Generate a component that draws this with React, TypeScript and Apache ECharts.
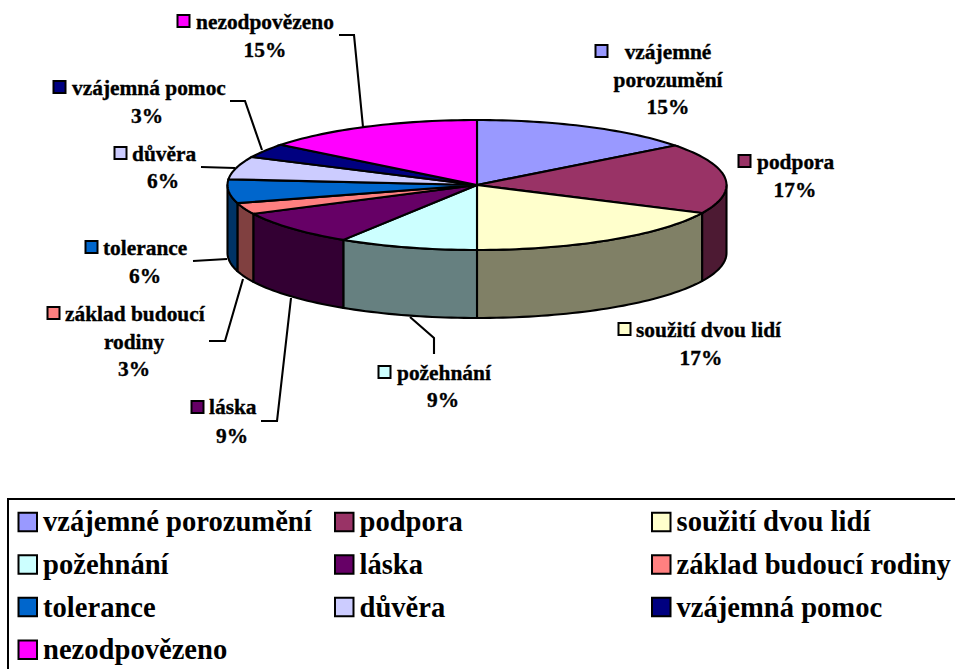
import React, { useEffect, useRef } from "react";
import * as echarts from "echarts";

// Data
const categories = ["vzájemné porozumění", "podpora", "soužití dvou lidí", "požehnání", "láska", "základ budoucí rodiny", "tolerance", "důvěra", "vzájemná pomoc", "nezodpovězeno"];
const shares = [14.6, 17.5, 17.9, 9.0, 8.7, 2.8, 5.9, 5.7, 3.5, 14.4];
const percentLabels = ["15%", "17%", "17%", "9%", "9%", "3%", "6%", "6%", "3%", "15%"];
const colors = ["#9999FF", "#993366", "#FFFFCC", "#CCFFFF", "#660066", "#FF8080", "#0066CC", "#CCCCFF", "#000080", "#FF00FF"];

const legendColumns = [
  [0, 3, 6, 9],
  [1, 4, 7],
  [2, 5, 8],
];

// Layout
const PIE = { cx: 477, cy: 185, rx: 249.5, ry: 65, depth: 68 };
const LINE = 2.1;
const FONT = '"Liberation Serif", "Times New Roman", serif';
const LABEL_SIZE = 21.4;
const LEGEND_SIZE = 28.6;
const legendLeft = [17.5, 334, 651];

type Place = { icon: [number, number]; lines: { t: string; x: number; y: number; center?: boolean }[] };
const labelPlaces: Place[] = [
  { icon: [594, 44], lines: [{ t: "vzájemné", x: 668, y: 52, center: true }, { t: "porozumění", x: 668, y: 80, center: true }] },
  { icon: [737, 154], lines: [{ t: "podpora", x: 757, y: 162 }] },
  { icon: [617, 322], lines: [{ t: "soužití dvou lidí", x: 636, y: 330 }] },
  { icon: [377, 365], lines: [{ t: "požehnání", x: 397, y: 373 }] },
  { icon: [190, 400], lines: [{ t: "láska", x: 209, y: 407 }] },
  { icon: [46, 306], lines: [{ t: "základ budoucí", x: 65, y: 314 }, { t: "rodiny", x: 134, y: 342, center: true }] },
  { icon: [84, 240], lines: [{ t: "tolerance", x: 103, y: 248 }] },
  { icon: [113, 146], lines: [{ t: "důvěra", x: 132, y: 154 }] },
  { icon: [52, 80], lines: [{ t: "vzájemná pomoc", x: 72, y: 88 }] },
  { icon: [176, 14], lines: [{ t: "nezodpovězeno", x: 196, y: 22 }] },
];
const percentPlaces: [number, number][] = [[668, 107], [795, 190], [701, 358], [443, 400], [232, 436], [134, 369], [145, 276], [163, 181], [147, 116], [265, 50]];
const leaders: [number, number][][] = [
  [[339, 35], [354, 35], [363, 127]],
  [[230, 101], [245, 101], [262, 150]],
  [[201, 167], [235, 168]],
  [[193, 261], [227, 259]],
  [[209, 341], [225, 341], [243, 279]],
  [[261, 421], [277, 421], [291, 298]],
  [[434, 354], [434, 338], [410, 317]],
];

const total = shares.reduce((a, b) => a + b, 0);
const starts: number[] = [];
shares.reduce((acc, v) => {
  starts.push(acc);
  return acc + v;
}, 0);

const darken = (hex: string) => {
  const c = echarts.color.parse(hex);
  return `rgb(${Math.round(c[0] / 2)},${Math.round(c[1] / 2)},${Math.round(c[2] / 2)})`;
};
const toPoint = (deg: number, dy = 0): number[] => {
  const r = (deg * Math.PI) / 180;
  return [PIE.cx + PIE.rx * Math.sin(r), PIE.cy - PIE.ry * Math.cos(r) + dy];
};
const arc = (from: number, to: number, dy = 0): number[][] => {
  const pts: number[][] = [];
  const steps = Math.max(2, Math.ceil((to - from) / 1.5));
  for (let i = 0; i <= steps; i++) pts.push(toPoint(from + ((to - from) * i) / steps, dy));
  return pts;
};

const renderSlice = (color: string) => (_params: any, api: any) => {
  const a0 = api.value(0);
  const a1 = api.value(1);
  const children: any[] = [];
  const w0 = Math.max(a0, 90);
  const w1 = Math.min(a1, 270);
  if (w1 > w0) {
    children.push({
      type: "polygon",
      shape: { points: [...arc(w0, w1), ...arc(w0, w1, PIE.depth).reverse()] },
      style: { fill: darken(color), stroke: "#000", lineWidth: LINE, lineJoin: "round" },
    });
  }
  children.push({
    type: "polygon",
    shape: { points: [[PIE.cx, PIE.cy], ...arc(a0, a1)] },
    style: { fill: color, stroke: "#000", lineWidth: LINE, lineJoin: "miter" },
  });
  return { type: "group", children };
};

const textEl = (text: string, x: number, y: number, align: string, size: number) => ({
  type: "text",
  x,
  y,
  silent: true,
  style: { text, fill: "#000", stroke: "#000", lineWidth: 0.35, textAlign: align, textVerticalAlign: "middle", fontFamily: FONT, fontWeight: "bold", fontSize: size },
});

export default function App() {
  const ref = useRef<HTMLDivElement>(null);
  useEffect(() => {
    document.body.style.margin = "0";
    const chart = echarts.init(ref.current!, undefined, { renderer: "svg" });
    const graphics: any[] = [
      { type: "rect", shape: { x: 8, y: 499, width: 1000, height: 220 }, style: { fill: "#fff", stroke: "#000", lineWidth: 2 }, z: -10 },
    ];
    leaders.forEach((pts) =>
      graphics.push({ type: "polyline", shape: { points: pts }, style: { fill: "none", stroke: "#000", lineWidth: LINE }, silent: true })
    );
    labelPlaces.forEach((p, i) => {
      graphics.push({
        type: "rect",
        shape: { x: p.icon[0] + 1.5, y: p.icon[1] + 1, width: 12, height: 12 },
        style: { fill: colors[i], stroke: "#000", lineWidth: 2 },
        silent: true,
      });
      p.lines.forEach((l) => graphics.push(textEl(l.t, l.x, l.y, l.center ? "center" : "left", LABEL_SIZE)));
      graphics.push(textEl(percentLabels[i], percentPlaces[i][0], percentPlaces[i][1], "center", LABEL_SIZE));
    });
    chart.setOption({
      animation: false,
      backgroundColor: "#fff",
      legend: legendColumns.map((col, k) => ({
        left: legendLeft[k],
        top: 507.4,
        padding: 0,
        orient: "vertical",
        icon: "rect",
        itemWidth: 18.5,
        itemHeight: 18.5,
        itemGap: 13.6,
        selectedMode: false,
        data: col.map((i) => ({ name: categories[i], itemStyle: { borderColor: "#000", borderWidth: 2, color: colors[i] } })),
        itemStyle: { borderColor: "#000", borderWidth: 2 },
        textStyle: { fontFamily: FONT, fontWeight: "bold", fontSize: LEGEND_SIZE, color: "#000", padding: [0, 0, 0, 1] },
      })),
      graphic: graphics,
      series: categories.map((name, i) => ({
        type: "custom",
        name,
        coordinateSystem: "none",
        silent: true,
        itemStyle: { color: colors[i], borderColor: "#000", borderWidth: 2 },
        renderItem: renderSlice(colors[i]),
        data: [[(starts[i] / total) * 360, ((starts[i] + shares[i]) / total) * 360]],
      })),
    });
    return () => chart.dispose();
  }, []);
  return <div ref={ref} style={{ width: 955, height: 669, position: "absolute", left: 0, top: 0 }} />;
}
